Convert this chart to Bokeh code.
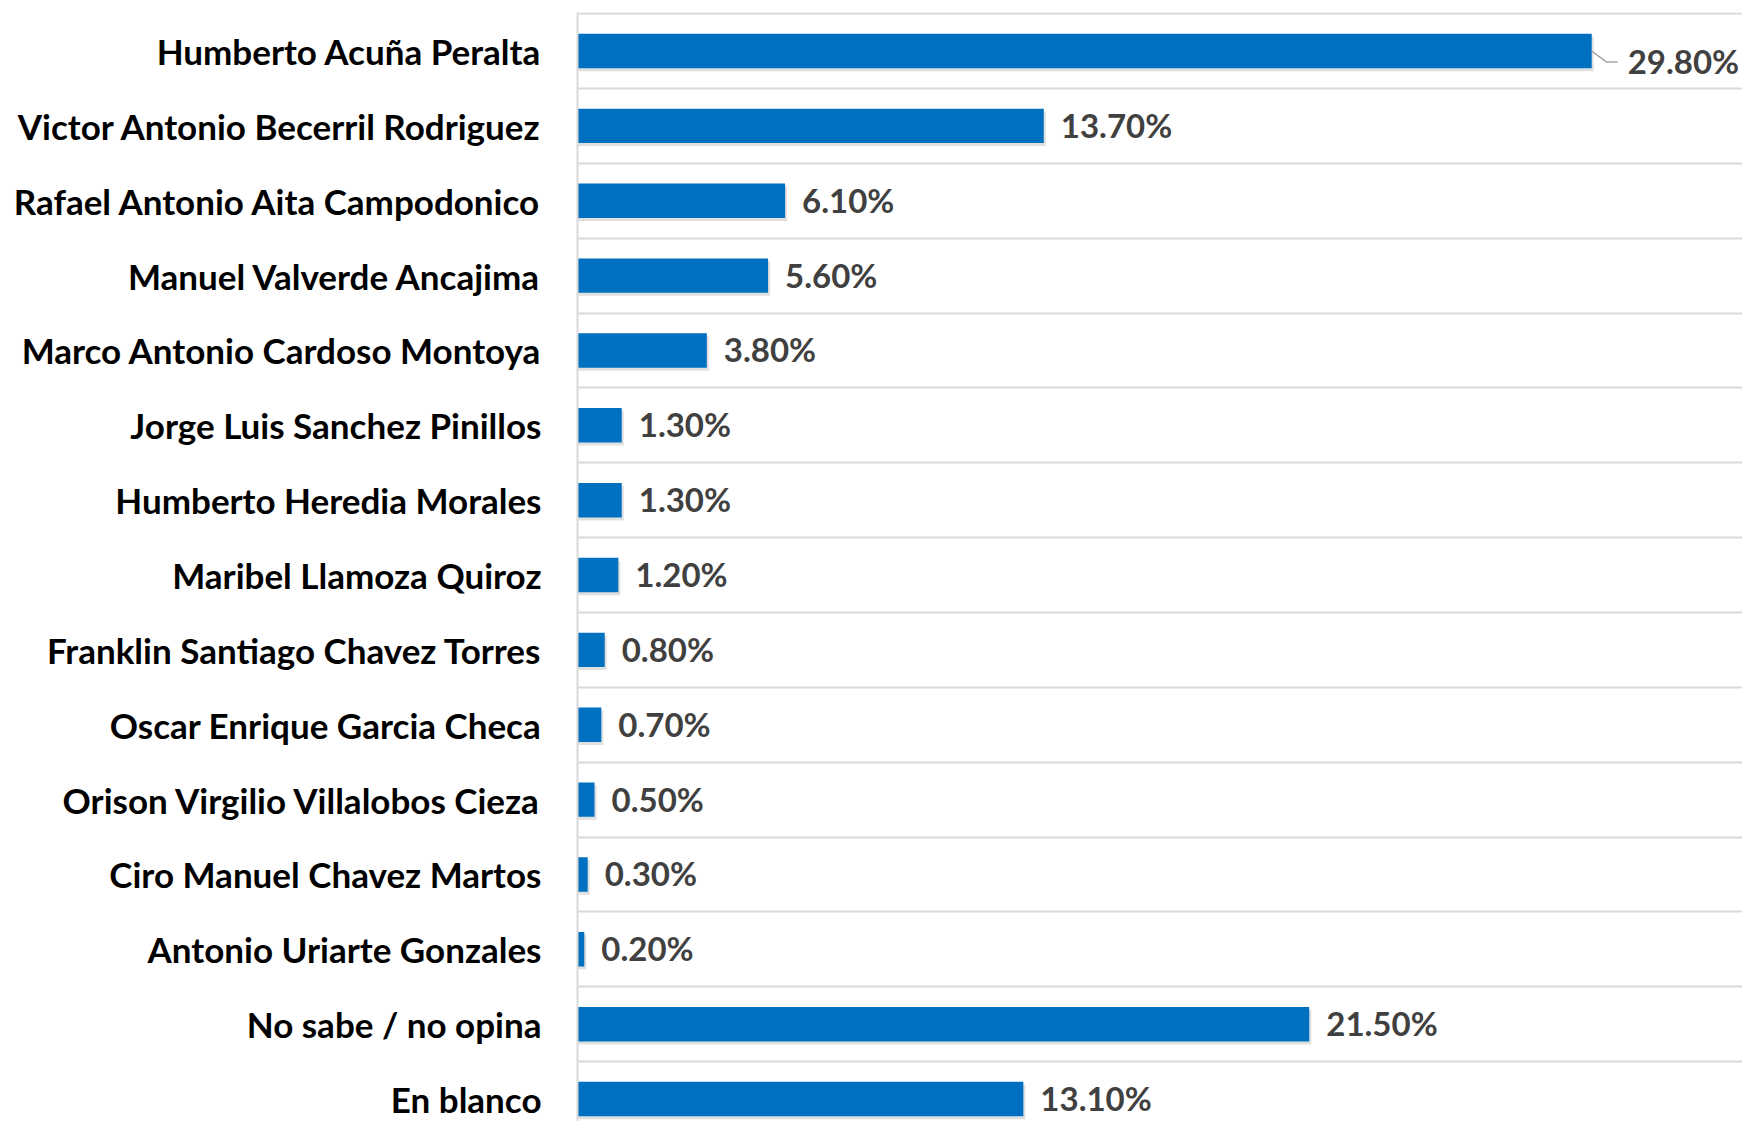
from bokeh.plotting import figure
from bokeh.models import Range1d, FixedTicker, ColumnDataSource
from bokeh.embed import file_html
from bokeh.resources import INLINE
from bokeh.core.properties import value

categories = [
    "Humberto Acuña Peralta",
    "Victor Antonio Becerril Rodriguez",
    "Rafael Antonio Aita Campodonico",
    "Manuel Valverde Ancajima",
    "Marco Antonio Cardoso Montoya",
    "Jorge Luis Sanchez Pinillos",
    "Humberto Heredia Morales",
    "Maribel Llamoza Quiroz",
    "Franklin Santiago Chavez Torres",
    "Oscar Enrique Garcia Checa",
    "Orison Virgilio Villalobos Cieza",
    "Ciro Manuel Chavez Martos",
    "Antonio Uriarte Gonzales",
    "No sabe / no opina",
    "En blanco",
]
values = [29.8, 13.7, 6.1, 5.6, 3.8, 1.3, 1.3, 1.2, 0.8, 0.7, 0.5, 0.3, 0.2, 21.5, 13.1]
labels = ["%.2f%%" % v for v in values]

n = len(categories)
ypos = [n - 1 - i for i in range(n)]

BLUE = "#0070C0"
FONT = "Lato"

p = figure(width=1742, height=1121, output_backend="svg", toolbar_location=None,
           x_range=Range1d(0, 34.23), y_range=Range1d(-0.3, n - 0.485),
           min_border_left=577, min_border_right=0, min_border_top=12, min_border_bottom=0)

p.outline_line_color = None
p.xaxis.visible = False
p.xgrid.visible = False
p.ygrid.ticker = FixedTicker(ticks=[k + 0.5 for k in range(-1, n)])
p.ygrid.grid_line_color = "#d9d9d9"
p.ygrid.grid_line_width = 2

p.yaxis.ticker = FixedTicker(ticks=ypos)
p.yaxis.major_label_overrides = {y: c for y, c in zip(ypos, categories)}
p.yaxis.major_label_text_font = FONT
p.yaxis.major_label_text_font_style = "bold"
p.yaxis.major_label_text_font_size = "35px"
p.yaxis.major_label_text_color = "#000000"
p.yaxis.major_label_standoff = 30
p.yaxis.major_tick_line_color = None
p.yaxis.minor_tick_line_color = None
p.yaxis.axis_line_color = "#d9d9d9"
p.yaxis.axis_line_width = 2

src = ColumnDataSource(dict(y=ypos, v=values, lab=labels,
                            ys=[y - 0.04 for y in ypos],
                            vs=[v + 0.06 for v in values]))

# soft shadow
p.hbar(y="ys", left=0, right="vs", height=0.46, source=src, fill_color="#000000",
       fill_alpha=0.12, line_color=None)
p.hbar(y="y", left=0, right="v", height=0.46, source=src, fill_color=BLUE, line_color=None)

# value labels (first one uses a leader line)
rest = ColumnDataSource(dict(y=ypos[1:], v=values[1:], lab=labels[1:]))
p.text(x="v", y="y", text="lab", source=rest, x_offset=17, y_offset=-1,
       text_font=value(FONT), text_font_style="bold", text_font_size="33px",
       text_color="#404040", text_baseline="middle", text_align="left")

top = ColumnDataSource(dict(y=[ypos[0]], v=[values[0]], lab=[labels[0]]))
p.text(x="v", y="y", text="lab", source=top, x_offset=36, y_offset=10,
       text_font=value(FONT), text_font_style="bold", text_font_size="33px",
       text_color="#404040", text_baseline="middle", text_align="left")
v0, y0 = values[0], ypos[0]
p.line(x=[v0, v0 + 0.44, v0 + 0.76], y=[y0, y0 - 0.147, y0 - 0.147],
       line_color="#a6a6a6", line_width=1.5)

open("out.html", "w").write(file_html(p, INLINE))
